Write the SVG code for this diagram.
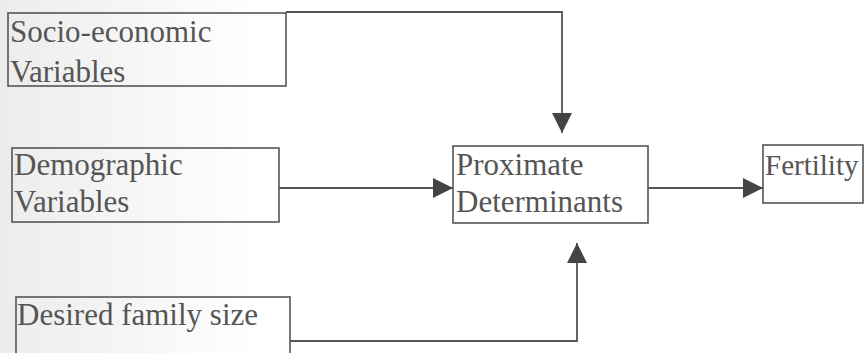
<svg xmlns="http://www.w3.org/2000/svg" width="864" height="353" viewBox="0 0 864 353">
  <style>
    .box { fill: none; stroke: #555; stroke-width: 1.6; }
    .lbl { font-family: "Liberation Serif", "Times New Roman", serif; font-size: 31px; fill: #555; }
    .conn { fill: none; stroke: #555; stroke-width: 1.8; }
  </style>
  <defs>
    <linearGradient id="bg" x1="0" y1="0" x2="1" y2="0">
      <stop offset="0" stop-color="#ececec"/>
      <stop offset="0.3" stop-color="#ffffff"/>
      <stop offset="1" stop-color="#ffffff"/>
    </linearGradient>
    <marker id="arr" viewBox="0 0 20 20" refX="20" refY="10" markerWidth="20" markerHeight="20" markerUnits="userSpaceOnUse" orient="auto">
      <path d="M0,0 L20,10 L0,20 Z" fill="#444"/>
    </marker>
  </defs>
  <rect x="0" y="0" width="864" height="353" fill="url(#bg)"/>

  <g id="socio">
    <rect class="box" x="8" y="13" width="278" height="73"/>
    <text class="lbl" x="10" y="42">Socio-economic</text>
    <text class="lbl" x="10" y="82">Variables</text>
  </g>
  <g id="demographic">
    <rect class="box" x="12" y="148" width="267" height="74"/>
    <text class="lbl" x="14" y="175">Demographic</text>
    <text class="lbl" x="14" y="212">Variables</text>
  </g>
  <g id="desired">
    <rect class="box" x="16" y="297" width="274" height="70"/>
    <text class="lbl" x="17" y="325">Desired family size</text>
  </g>
  <g id="proximate">
    <rect class="box" x="453" y="146" width="195" height="77"/>
    <text class="lbl" x="456" y="175">Proximate</text>
    <text class="lbl" x="456" y="212">Determinants</text>
  </g>
  <g id="fertility">
    <rect class="box" x="763" y="145" width="100" height="58"/>
    <text class="lbl" x="765" y="175" style="font-size:29px">Fertility</text>
  </g>

  <g id="connectors">
    <path class="conn" d="M286,12 L562,12 L562,133" marker-end="url(#arr)"/>
    <path class="conn" d="M279,188 L453,188" marker-end="url(#arr)"/>
    <path class="conn" d="M290,341 L577,341 L577,243" marker-end="url(#arr)"/>
    <path class="conn" d="M648,188 L763,188" marker-end="url(#arr)"/>
  </g>
</svg>
